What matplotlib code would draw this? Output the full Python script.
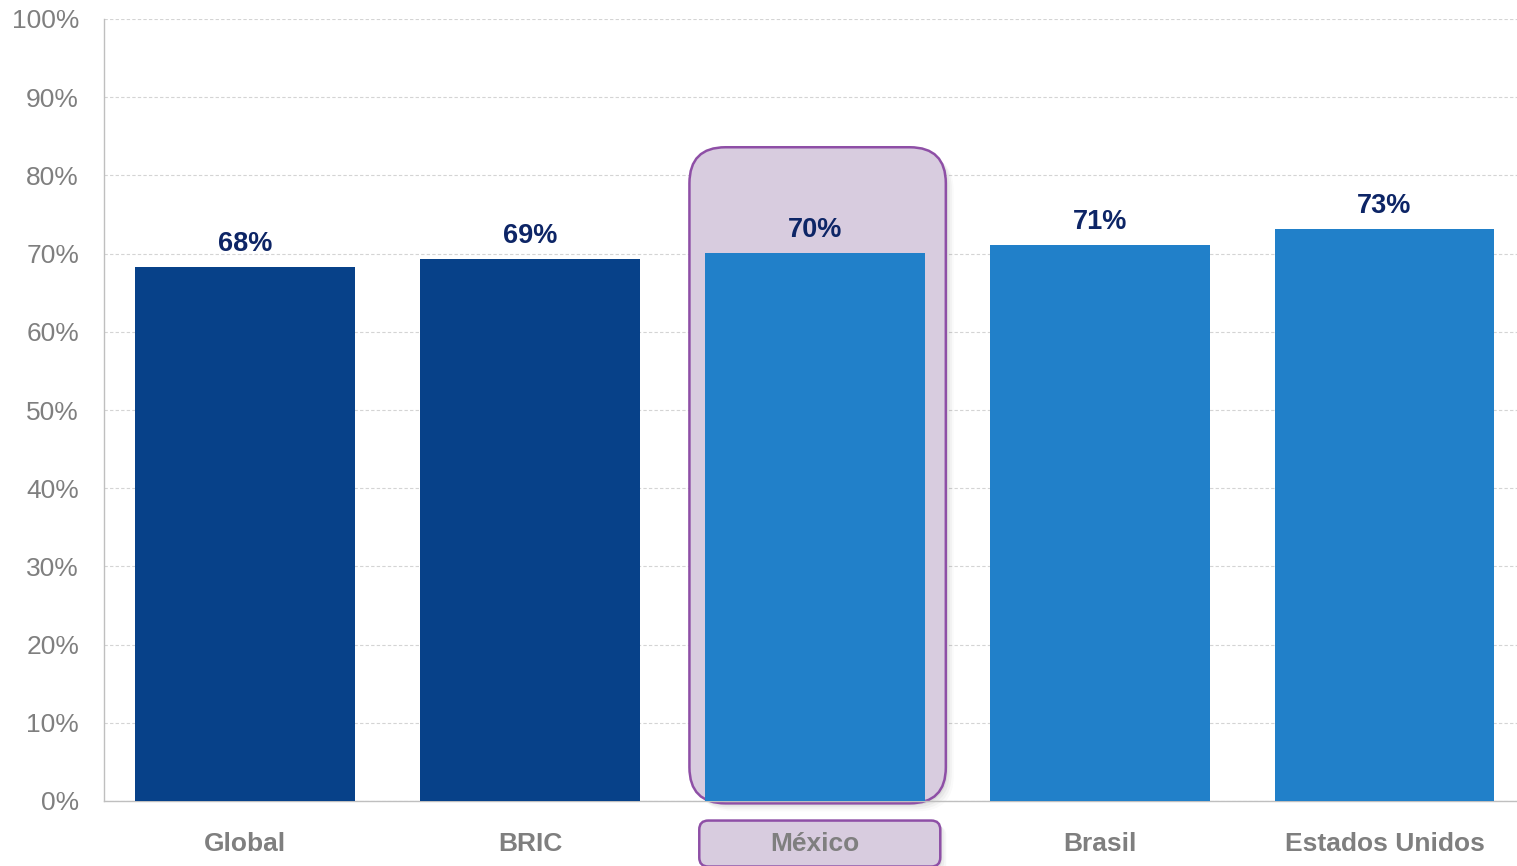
import matplotlib
matplotlib.use("Agg")
import matplotlib.pyplot as plt
from matplotlib.patches import FancyBboxPatch
from matplotlib.transforms import IdentityTransform
from matplotlib.ticker import PercentFormatter

plt.rcParams['font.family'] = ['Liberation Sans', 'DejaVu Sans']

categories = ["Global", "BRIC", "México", "Brasil", "Estados Unidos"]
values = [68.3, 69.3, 70.1, 71.1, 73.1]
bar_colors = ["#074189", "#074189", "#2180C9", "#2180C9", "#2180C9"]
highlight = "México"
yticks = list(range(0, 101, 10))

fig = plt.figure(figsize=(15.17, 8.66), dpi=100)
ax = fig.add_axes([104 / 1517, 65 / 866, 1 - 104 / 1517, (801 - 19) / 866])

x = list(range(len(categories)))
bars = ax.bar(x, values, width=0.772, color=bar_colors, zorder=3)

ax.set_xlim(-0.495, 4.465)
ax.set_ylim(0, 100)
ax.set_yticks(yticks)
ax.yaxis.set_major_formatter(PercentFormatter(decimals=0))
ax.set_xticks(x)
ax.set_xticklabels(categories, fontsize=19, fontweight='bold', color='#7F7F7F')
ax.tick_params(axis='y', length=0, pad=18, labelsize=19, labelcolor='#7F7F7F')
ax.tick_params(axis='x', length=0, pad=22)

ax.grid(axis='y', color='#D4D4D4', linestyle=(0, (3, 2)), linewidth=0.8, zorder=0)
ax.set_axisbelow(True)
ax.xaxis.set_zorder(4)
for side in ('top', 'right'):
    ax.spines[side].set_visible(False)
for side in ('left', 'bottom'):
    ax.spines[side].set_color('#BFBFBF')
    ax.spines[side].set_linewidth(1.0)

for xi, v in zip(x, values):
    ax.annotate(f"{v:.0f}%", (xi, v), xytext=(0, 11.5), textcoords='offset points',
                ha='center', va='baseline', fontsize=19.5, fontweight='bold',
                color='#0D2566', zorder=5)

# Rounded highlight frame around the selected country (drawn in pixel space)
fig.canvas.draw()
hi = categories.index(highlight)
to_px = ax.transData.transform
(x0, y0) = to_px((hi - 0.44, -0.3))
(x1, y1) = to_px((hi + 0.46, 83.6))
ident = IdentityTransform()
pad = 36
for k, a in enumerate([0.05, 0.04, 0.03, 0.02]):
    off = 2 + 2 * k
    sh = FancyBboxPatch((x0 + pad + off, y0 + pad - off), (x1 - x0) - 2 * pad, (y1 - y0) - 2 * pad,
                        boxstyle=f"round,pad={pad}", transform=ident, facecolor='black',
                        edgecolor='none', alpha=a, zorder=1, clip_on=False)
    ax.add_patch(sh)
box = FancyBboxPatch((x0 + pad, y0 + pad), (x1 - x0) - 2 * pad, (y1 - y0) - 2 * pad,
                     boxstyle=f"round,pad={pad}", transform=ident, facecolor='#D8CCDF',
                     edgecolor='#8E4FA6', linewidth=1.8, zorder=2, clip_on=False)
ax.add_patch(box)

# Highlighted tick label box
lbl = ax.get_xticklabels()[hi]
bb = lbl.get_window_extent(renderer=fig.canvas.get_renderer())
cx = (bb.x0 + bb.x1) / 2 + 5
cy = (bb.y0 + bb.y1) / 2
w, h = 241, 46
r = 9
for k, a in enumerate([0.05, 0.04, 0.03]):
    off = 2 + 2 * k
    sh = FancyBboxPatch((cx - w / 2 + r + off, cy - h / 2 + r - off), w - 2 * r, h - 2 * r,
                        boxstyle=f"round,pad={r}", transform=ident, facecolor='black',
                        edgecolor='none', alpha=a, zorder=1, clip_on=False)
    ax.add_patch(sh)
lbox = FancyBboxPatch((cx - w / 2 + r, cy - h / 2 + r), w - 2 * r, h - 2 * r,
                      boxstyle=f"round,pad={r}", transform=ident, facecolor='#D8CCDF',
                      edgecolor='#8E4FA6', linewidth=1.8, zorder=2, clip_on=False)
ax.add_patch(lbox)

fig.savefig("out.png", dpi=100)
